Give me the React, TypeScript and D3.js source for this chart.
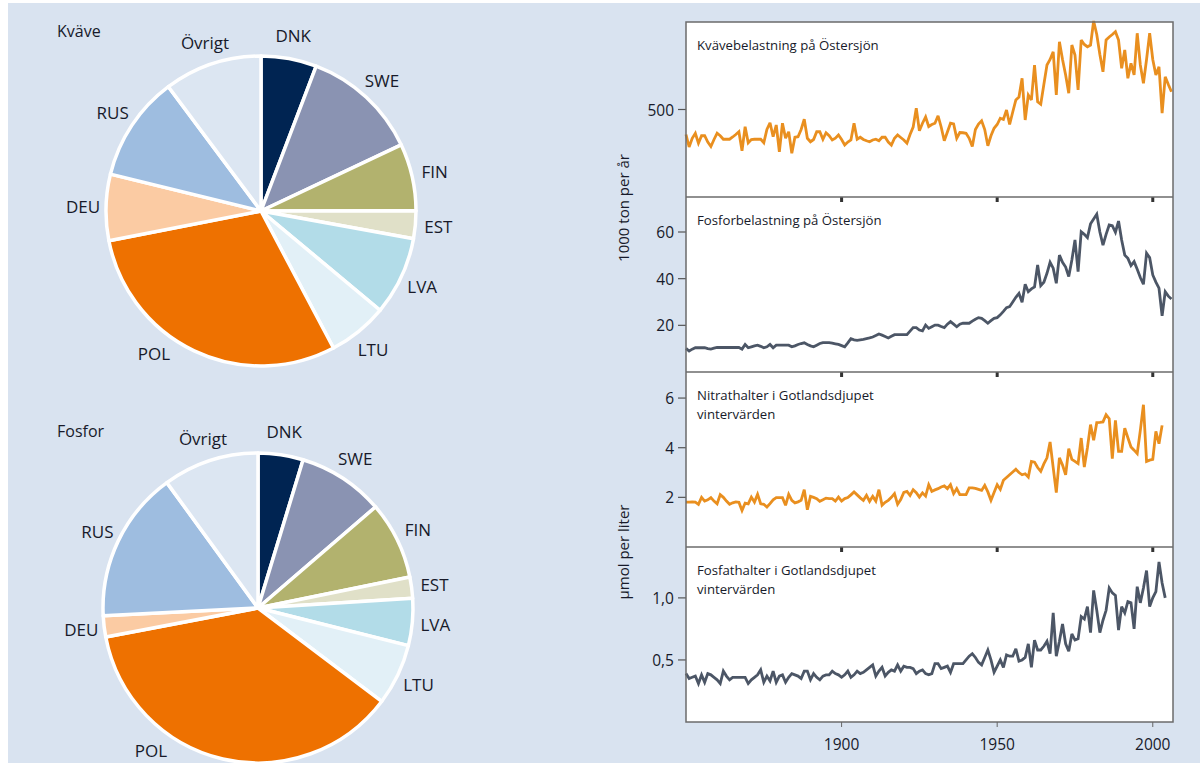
import React from 'react';
import * as d3 from 'd3';

// ---------- Pie data ----------
const countries = ['DNK', 'SWE', 'FIN', 'EST', 'LVA', 'LTU', 'POL', 'DEU', 'RUS', 'Övrigt'];
const kvaveShares = [5.8, 12.2, 7.0, 2.9, 8.2, 6.2, 29.7, 6.9, 11.0, 10.2];
const fosforShares = [4.7, 9.0, 8.1, 2.2, 4.9, 6.4, 36.7, 2.2, 15.8, 10.0];
const countryColors = ['#002452', '#8a93b2', '#b2b26e', '#e0e0c8', '#b2dce8', '#e2f0f7', '#ee7100', '#fbcba3', '#9ebde0', '#dce6f2'];

// ---------- Time series (annual, starting 1850) ----------
const startYear = 1850;
const kvaveLoad = [
  400, 350, 385, 405, 365, 395, 395, 370, 352, 380,
  405, 395, 381, 381, 381, 390, 400, 411, 335, 431,
  367, 380, 381, 381, 381, 367, 420, 447, 391, 438,
  331, 445, 385, 411, 325, 389, 391, 420, 461, 385,
  371, 380, 411, 411, 381, 407, 395, 378, 385, 398,
  380, 358, 370, 378, 445, 381, 389, 380, 375, 371,
  378, 381, 375, 389, 389, 370, 358, 385, 398, 388,
  378, 365, 400, 430, 505, 415, 445, 470, 432, 440,
  445, 475, 430, 375, 410, 445, 442, 385, 408, 407,
  405, 385, 352, 420, 442, 455, 420, 355, 395, 425,
  440, 465, 460, 498, 440, 490, 538, 550, 625, 458,
  558, 538, 678, 531, 521, 600, 678, 700, 731, 558,
  771, 700, 638, 565, 758, 718, 578, 778, 760, 751,
  758, 854, 800, 720, 651, 778, 790, 800, 811, 778,
  665, 738, 625, 685, 638, 805, 678, 605, 700, 805,
  700, 638, 671, 485, 631, 600, 571,
];
const fosforLoad = [
  10.1, 9.0, 9.8, 10.4, 10.4, 10.4, 10.4, 10.0, 9.8, 10.2,
  10.5, 10.5, 10.5, 10.5, 10.5, 10.5, 10.5, 10.5, 9.8, 11.8,
  10.4, 10.8, 11.2, 11.5, 11.0, 10.4, 10.8, 11.8, 10.4, 11.5,
  11.5, 11.5, 11.5, 11.5, 10.8, 11.2, 11.8, 12.2, 12.5, 11.8,
  11.2, 10.8, 11.5, 12.2, 12.6, 12.6, 12.6, 12.4, 12.1, 11.8,
  11.3, 10.8, 12.5, 14.3, 13.8, 13.6, 13.8, 14.0, 14.3, 14.6,
  15.0, 15.6, 16.3, 15.8, 15.2, 14.6, 15.3, 16.0, 16.0, 16.0,
  16.0, 16.0, 17.5, 19.0, 19.0, 18.0, 17.6, 20.1, 18.7, 19.4,
  20.1, 20.1, 19.5, 19.0, 20.5, 21.6, 20.5, 19.4, 20.5, 20.9,
  20.9, 20.9, 21.8, 22.6, 23.3, 23.0, 22.0, 20.9, 22.0, 23.0,
  23.3, 24.5, 26.0, 27.6, 28.0, 30.0, 32.0, 33.7, 29.9, 37.6,
  34.4, 35.6, 36.5, 45.9, 37.0, 38.5, 42.3, 47.0, 44.5, 38.0,
  50.1, 47.0, 45.0, 40.9, 48.0, 56.6, 43.0, 60.1, 59.0, 57.6,
  63.5, 65.6, 67.6, 60.0, 54.4, 59.0, 63.0, 62.7, 59.9, 64.7,
  56.6, 50.1, 48.7, 45.6, 47.3, 44.0, 40.5, 37.6, 50.9, 49.0,
  41.6, 38.5, 35.9, 24.1, 34.4, 32.5, 31.3,
];
const nitrat = [
  1.81, 1.81, 1.82, 1.81, 1.72, 2.0, 1.85, 1.9, 1.99, 1.85,
  1.74, 2.11, 2.0, 1.85, 1.72, 1.78, 1.82, 1.8, 1.47, 1.77,
  1.74, 2.01, 1.81, 2.12, 1.74, 1.72, 1.61, 1.75, 1.9, 1.99,
  1.99, 1.99, 1.68, 2.12, 1.88, 1.78, 1.82, 1.88, 2.31, 1.5,
  2.04, 2.0, 1.95, 1.84, 1.9, 1.97, 1.95, 1.95, 1.85, 2.01,
  1.85, 1.95, 1.99, 2.1, 2.22, 2.1, 1.98, 1.88, 2.08, 1.84,
  2.04, 1.85, 2.31, 1.68, 1.8, 1.88, 2.0, 2.15, 1.72, 1.91,
  2.2, 2.24, 2.08, 2.31, 2.19, 2.01, 2.18, 2.05, 2.51, 2.24,
  2.3, 2.35, 2.42, 2.46, 2.35, 2.51, 2.15, 2.35, 2.11, 2.11,
  2.11, 2.38, 2.38, 2.36, 2.32, 2.28, 2.48, 2.22, 1.88, 2.2,
  2.51, 2.32, 2.69, 2.8, 2.91, 3.02, 3.13, 3.0, 2.91, 2.95,
  2.82, 3.45, 3.42, 3.2, 3.05, 3.35, 3.59, 4.23, 3.2, 2.19,
  3.59, 3.3, 2.91, 3.96, 3.53, 3.45, 3.36, 4.39, 3.22, 4.0,
  4.93, 4.3, 5.01, 5.02, 5.04, 5.33, 5.17, 3.56, 5.1, 3.85,
  3.85, 4.79, 4.4, 4.03, 3.9, 3.76, 4.7, 5.73, 3.45, 3.5,
  3.53, 4.66, 4.16, 4.9,
];
const fosfat = [
  0.39, 0.35, 0.36, 0.37, 0.31, 0.38, 0.32, 0.39, 0.38, 0.36,
  0.34, 0.31, 0.41, 0.37, 0.34, 0.36, 0.36, 0.36, 0.36, 0.36,
  0.31, 0.34, 0.36, 0.38, 0.42, 0.32, 0.37, 0.33, 0.41, 0.32,
  0.37, 0.38, 0.32, 0.36, 0.39, 0.38, 0.37, 0.35, 0.41, 0.41,
  0.34, 0.39, 0.36, 0.34, 0.37, 0.38, 0.38, 0.41, 0.39, 0.38,
  0.36, 0.38, 0.41, 0.36, 0.38, 0.41, 0.39, 0.4, 0.42, 0.44,
  0.46, 0.37, 0.41, 0.44, 0.37, 0.4, 0.42, 0.41, 0.46, 0.41,
  0.45, 0.44, 0.44, 0.43, 0.39, 0.41, 0.42, 0.39, 0.38, 0.39,
  0.47, 0.47, 0.43, 0.44, 0.45, 0.4, 0.47, 0.47, 0.47, 0.47,
  0.5, 0.53, 0.55, 0.52, 0.48, 0.46, 0.52, 0.58, 0.5, 0.4,
  0.45, 0.5, 0.44, 0.54, 0.53, 0.53, 0.59, 0.49, 0.5, 0.52,
  0.63, 0.44, 0.66, 0.58, 0.58, 0.61, 0.65, 0.55, 0.88, 0.53,
  0.65, 0.79, 0.63, 0.57, 0.71, 0.66, 0.67, 0.85, 0.83, 0.93,
  0.72, 1.06, 0.9, 0.72, 0.82, 0.9, 1.08, 1.04, 1.02, 0.74,
  0.93, 0.88, 0.97, 0.96, 0.75, 1.09, 0.96, 1.08, 1.22, 0.93,
  1.0, 1.05, 1.29, 1.12, 1.0,
];

const xTicks = [1900, 1950, 2000];
const kvaveTicks = [500];
const fosforTicks = [20, 40, 60];
const nitratTicks = [2, 4, 6];
const fosfatTicks = [0.5, 1.0];

const panelTitles = [
  ['Kvävebelastning på Östersjön'],
  ['Fosforbelastning på Östersjön'],
  ['Nitrathalter i Gotlandsdjupet', 'vintervärden'],
  ['Fosfathalter i Gotlandsdjupet', 'vintervärden'],
];

// ---------- Styles ----------
const BG = '#d9e3f0';
const TEXT = '#171a2a';
const ORANGE = '#e98f1f';
const GREY = '#4c5666';
const FONT = '"Open Sans", "Noto Sans", sans-serif';

const svFormat = d3.formatLocale({ decimal: ',', thousands: ' ', grouping: [3], currency: ['', ' kr'] });

function Pie({ cx, cy, r, shares, title, titleY }: any) {
  const pie = d3.pie<number>().sort(null).value((d) => d)(shares);
  const arc = d3.arc<any>().innerRadius(0).outerRadius(r);
  const labelR = r + 23;
  const labelAngleOverride: Record<string, number> = { POL: (217 * Math.PI) / 180 };
  return (
    <g>
      <text x={57} y={titleY} fontSize={16} fill={TEXT} fontFamily={FONT}>{title}</text>
      <g transform={`translate(${cx},${cy})`}>
        {pie.map((p, i) => (
          <path key={i} d={arc(p) || ''} fill={countryColors[i]} stroke="#ffffff" strokeWidth={3.5} strokeLinejoin="round" />
        ))}
        {pie.map((p, i) => {
          const name = countries[i];
          const a = labelAngleOverride[name] ?? (p.startAngle + p.endAngle) / 2;
          return (
            <text key={'l' + i} x={labelR * Math.sin(a)} y={-labelR * Math.cos(a)} textAnchor="middle" dominantBaseline="central" fontSize={17} fill={TEXT} fontFamily={FONT}>
              {name}
            </text>
          );
        })}
      </g>
    </g>
  );
}

export default function App() {
  const W = 1200, H = 763;
  const x0 = 686, x1 = 1173;
  const tops = [22, 197, 372, 547];
  const ph = 175;
  const x = d3.scaleLinear().domain([1850, 2006.5]).range([x0, x1]);

  const panels = [
    { data: kvaveLoad, domain: [150, 850], ticks: kvaveTicks, color: ORANGE, fmt: (v: number) => String(v) },
    { data: fosforLoad, domain: [0, 75], ticks: fosforTicks, color: GREY, fmt: (v: number) => String(v) },
    { data: nitrat, domain: [0, 7.05], ticks: nitratTicks, color: ORANGE, fmt: (v: number) => String(v) },
    { data: fosfat, domain: [0, 1.41], ticks: fosfatTicks, color: GREY, fmt: svFormat.format('.1f') },
  ];

  return (
    <svg width={W} height={H} style={{ position: 'absolute', left: 0, top: 0 }} fontFamily={FONT}>
      <rect x={0} y={0} width={W} height={H} fill="#ffffff" />
      <rect x={8} y={3} width={W - 8} height={H - 3} fill={BG} />

      <Pie cx={261} cy={211} r={155} shares={kvaveShares} title="Kväve" titleY={37} />
      <Pie cx={258} cy={608} r={155} shares={fosforShares} title="Fosfor" titleY={437} />

      {panels.map((p, i) => {
        const top = tops[i];
        const y = d3.scaleLinear().domain(p.domain).range([top + ph, top]);
        const line = d3.line<number>().x((_, j) => x(startYear + j)).y((d) => y(d));
        return (
          <g key={i}>
            <rect x={x0} y={top} width={x1 - x0} height={ph} fill="#ffffff" />
            <path d={line(p.data) || ''} fill="none" stroke={p.color} strokeWidth={2.8} strokeLinejoin="miter" strokeMiterlimit={3} />
            {p.ticks.map((t) => (
              <g key={t}>
                <line x1={x0 - 8} x2={x0} y1={y(t)} y2={y(t)} stroke="#555" strokeWidth={1.2} />
                <text x={x0 - 12} y={y(t)} textAnchor="end" dominantBaseline="central" fontSize={15.5} fill={TEXT}>{p.fmt(t)}</text>
              </g>
            ))}
            {i > 0 && xTicks.map((t) => (
              <rect key={t} x={x(t) - 1.5} y={top} width={3} height={5} fill="#333" />
            ))}
            {panelTitles[i].map((s, k) => (
              <text key={k} x={697} y={top + 28 + k * 19} fontSize={13.2} fill={TEXT}>{s}</text>
            ))}
          </g>
        );
      })}

      {/* panel frames */}
      <rect x={x0} y={tops[0]} width={x1 - x0} height={ph * 4} fill="none" stroke="#6b6b6b" strokeWidth={1.5} />
      {tops.slice(1).map((t) => (
        <line key={t} x1={x0} x2={x1} y1={t} y2={t} stroke="#6b6b6b" strokeWidth={1.5} />
      ))}

      {/* bottom axis */}
      {xTicks.map((t) => (
        <g key={t}>
          <line x1={x(t)} x2={x(t)} y1={tops[3] + ph} y2={tops[3] + ph + 5} stroke="#666" strokeWidth={1} />
          <text x={x(t)} y={tops[3] + ph + 28} textAnchor="middle" fontSize={15.5} fill={TEXT}>{t}</text>
        </g>
      ))}

      {/* y axis titles */}
      <text transform="translate(629,208) rotate(-90)" textAnchor="middle" fontSize={15} fill={TEXT}>1000 ton per år</text>
      <text transform="translate(629,552) rotate(-90)" textAnchor="middle" fontSize={15} fill={TEXT}>µmol per liter</text>
    </svg>
  );
}
